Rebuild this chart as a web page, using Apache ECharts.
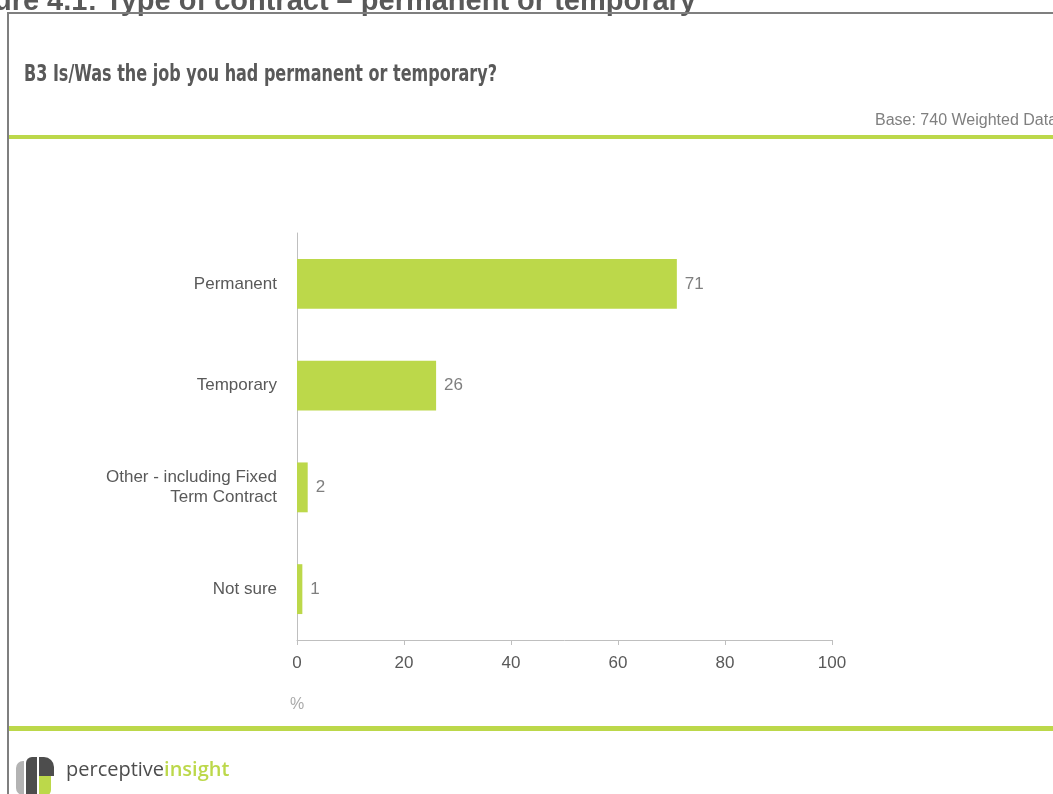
<!DOCTYPE html>
<html>
<head>
<meta charset="utf-8">
<script src="https://cdn.jsdelivr.net/npm/echarts@6/dist/echarts.min.js"></script>
<style>
  html, body { margin: 0; padding: 0; background: #ffffff; }
  #chart { width: 1053px; height: 794px; }
</style>
</head>
<body>
<div id="chart"></div>
<script>
// Contract type shares (%), top to bottom
const categories = ['Permanent', 'Temporary', 'Other - including Fixed\nTerm Contract', 'Not sure'];
const shares = [71, 26, 2, 1];
const axisTicks = [0, 20, 40, 60, 80, 100];

const figureTitle = 'Figure 4.1: Type of contract \u2013 permanent or temporary';
const question = 'B3 Is/Was the job you had permanent or temporary?';
const baseNote = 'Base: 740 Weighted Data';

const GREEN = '#bcd84a';
const GREY_TEXT = '#595959';
const SANS = '"Liberation Sans", Arial, sans-serif';

// The heading uses a narrow humanist bold; squeeze a condensed face to that width.
const HEAD_FONT = 'bold 23px "DejaVu Sans Condensed", "DejaVu Sans", sans-serif';
const HEAD_WIDTH = 473;
const ctx = document.createElement('canvas').getContext('2d');
ctx.font = HEAD_FONT;
const headScale = HEAD_WIDTH / ctx.measureText(question).width;

const chart = echarts.init(document.getElementById('chart'), null, { renderer: 'canvas' });

chart.setOption({
  backgroundColor: '#ffffff',
  animation: false,
  grid: { left: 297, right: 221, top: 233, bottom: 154, containLabel: false },
  xAxis: {
    type: 'value',
    min: axisTicks[0],
    max: axisTicks[axisTicks.length - 1],
    interval: axisTicks[1] - axisTicks[0],
    axisLine: { show: true, lineStyle: { color: '#bfbfbf', width: 1 } },
    axisTick: { show: true, length: 5, lineStyle: { color: '#bfbfbf' } },
    axisLabel: { color: GREY_TEXT, fontFamily: SANS, fontSize: 17, margin: 15 },
    splitLine: { show: false },
    name: '%',
    nameLocation: 'start',
    nameGap: 0,
    nameTextStyle: {
      color: '#aaaaaa', fontFamily: SANS, fontSize: 16,
      align: 'center', verticalAlign: 'top', padding: [57, 0, 0, 0]
    }
  },
  yAxis: {
    type: 'category',
    data: categories,
    inverse: true,
    axisLine: { show: true, lineStyle: { color: '#bfbfbf', width: 1 } },
    axisTick: { show: false },
    axisLabel: {
      color: GREY_TEXT, fontFamily: SANS, fontSize: 17,
      margin: 20, align: 'right', lineHeight: 20
    }
  },
  series: [{
    type: 'bar',
    data: shares,
    barWidth: '49%',
    itemStyle: { color: GREEN },
    label: {
      show: true,
      position: 'right',
      distance: 8,
      color: '#7f7f7f',
      fontFamily: SANS,
      fontSize: 17
    }
  }],
  graphic: [
    // figure caption running off the top-left edge
    {
      type: 'text', right: 1053 - 696, top: -13, silent: true,
      style: {
        text: figureTitle, fill: '#595959',
        font: 'bold 29px ' + SANS
      }
    },
    // panel frame
    { type: 'rect', shape: { x: 8, y: 13, width: 1100, height: 900 }, style: { fill: 'none', stroke: '#7f7f7f', lineWidth: 2 }, silent: true },
    // question heading
    {
      type: 'text', x: 24, y: 64, scaleX: headScale, silent: true,
      style: { text: question, fill: '#595959', font: HEAD_FONT }
    },
    // base note
    {
      type: 'text', left: 875, top: 113, silent: true,
      style: { text: baseNote, fill: '#7f7f7f', font: '16px ' + SANS }
    },
    // green rules
    { type: 'rect', shape: { x: 9, y: 135, width: 1044, height: 4 }, style: { fill: GREEN }, silent: true },
    { type: 'rect', shape: { x: 9, y: 726, width: 1044, height: 5 }, style: { fill: GREEN }, silent: true },
    // logo mark
    { type: 'rect', shape: { x: 16, y: 761, width: 8, height: 34, r: [7, 0, 0, 7] }, style: { fill: '#b3b3b3' }, silent: true },
    { type: 'rect', shape: { x: 26, y: 757, width: 11, height: 40, r: [6, 0, 0, 0] }, style: { fill: '#4d4d4d' }, silent: true },
    { type: 'rect', shape: { x: 39, y: 757, width: 15, height: 19, r: [0, 10, 0, 0] }, style: { fill: '#4d4d4d' }, silent: true },
    { type: 'rect', shape: { x: 39, y: 776, width: 12, height: 20, r: [0, 0, 6, 0] }, style: { fill: GREEN }, silent: true },
    {
      type: 'text', left: 66, top: 760, silent: true,
      style: {
        text: '{a|perceptive}{b|insight}',
        rich: {
          a: { fill: '#4d4d4d', font: '20px "Open Sans", "Liberation Sans", sans-serif' },
          b: { fill: GREEN, font: '600 20px "Open Sans", "Liberation Sans", sans-serif' }
        }
      }
    }
  ]
});
</script>
</body>
</html>
